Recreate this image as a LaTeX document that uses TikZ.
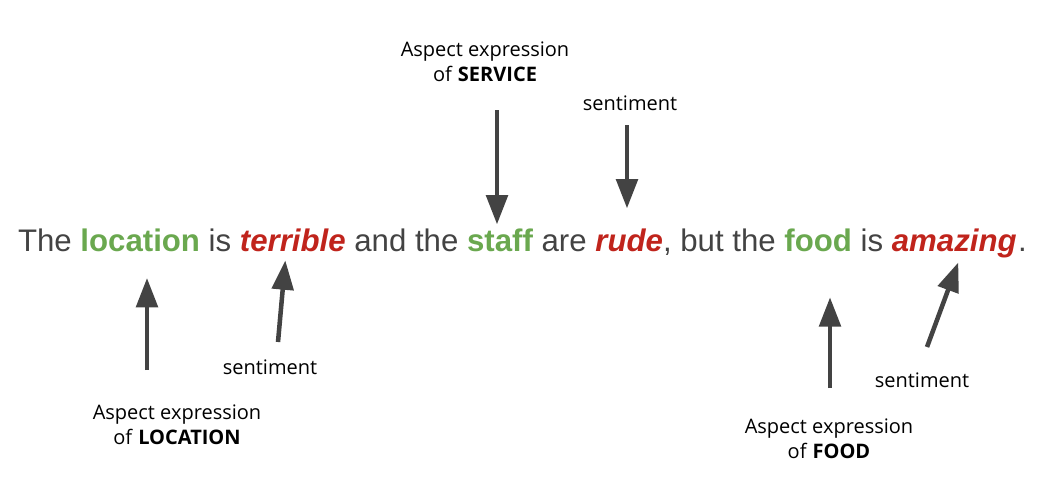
\documentclass[tikz,border=0pt]{standalone}
\usepackage{fontspec}
\setmainfont{Liberation Sans}
\newfontfamily\notefont{Open Sans}
\usepackage{xcolor}
\definecolor{textgray}{HTML}{434343}
\definecolor{aspectgreen}{HTML}{6AA84F}
\definecolor{sentimentred}{HTML}{C0241C}
\definecolor{arrowgray}{HTML}{434343}
\usetikzlibrary{positioning,arrows.meta}

\begin{document}
\begin{tikzpicture}[x=0.75pt, y=-0.75pt,
  word/.style={inner sep=0pt, outer sep=0pt, font=\fontsize{23.4}{28}\selectfont, text=textgray},
  aspect/.style={word, font=\fontsize{23.4}{28}\selectfont\bfseries, text=aspectgreen},
  opinion/.style={word, font=\fontsize{23.4}{28}\selectfont\bfseries\itshape, text=sentimentred},
  note/.style={font=\notefont\fontsize{15}{18.8}\selectfont, align=center, inner sep=0pt},
  pointer/.style={line width=3.4pt, draw=arrowgray, -{Triangle[width=16pt, length=22pt]}},
  node distance=6.5pt]
  \useasboundingbox (0,0) rectangle (1056,494);

  % the sentence
  \node[word, anchor=base west] (the) at (18,251) {The};
  \node[aspect,  base right=of the]      (location) {location};
  \node[word,    base right=of location] (is1)      {is};
  \node[opinion, base right=of is1]      (terrible) {terrible};
  \node[word,    base right=of terrible] (andthe)   {and the};
  \node[aspect,  base right=of andthe]   (staff)    {staff};
  \node[word,    base right=of staff]    (are)      {are};
  \node[opinion, base right=of are]      (rude)     {rude};
  \node[word,    base right=0pt of rude] (butthe)   {, but the};
  \node[aspect,  base right=of butthe]   (food)     {food};
  \node[word,    base right=of food]     (is2)      {is};
  \node[opinion, base right=of is2]      (amazing)  {amazing};
  \node[word,    base right=1pt of amazing] (stop)  {.};

  % notes
  \node[note] (servicenote)  at (485,62)  {Aspect expression\\of \textbf{SERVICE}};
  \node[note] (rudenote)     at (630,103) {sentiment};
  \node[note] (locationnote) at (177,425) {Aspect expression\\of \textbf{LOCATION}};
  \node[note] (terriblenote) at (270,367) {sentiment};
  \node[note] (foodnote)     at (829,439) {Aspect expression\\of \textbf{FOOD}};
  \node[note] (amazingnote)  at (922,380) {sentiment};

  % arrows
  \coordinate (service tail)  at (497,110);
  \coordinate (rude tail)     at (627,125);
  \coordinate (location tail) at (147,370);
  \coordinate (terrible tail) at (278,342);
  \coordinate (food tail)     at (830,388);
  \coordinate (amazing tail)  at (927,347);

  \draw[pointer, shorten >=3pt]    (service tail)  -- (service tail |- staff.north);
  \draw[pointer, shorten >=15pt]   (rude tail)     -- (rude tail |- rude.north);
  \draw[pointer, shorten >=20pt]   (location tail) -- (location tail |- location.south);
  \draw[pointer] (terrible tail) -- ([xshift=-5.6pt, yshift=-6.8pt]terrible.south);
  \draw[pointer, shorten >=34.5pt] (food tail)     -- (food tail |- food.south);
  \draw[pointer] (amazing tail)  -- ([xshift=3pt, yshift=-3.7pt]amazing.south);
\end{tikzpicture}
\end{document}
